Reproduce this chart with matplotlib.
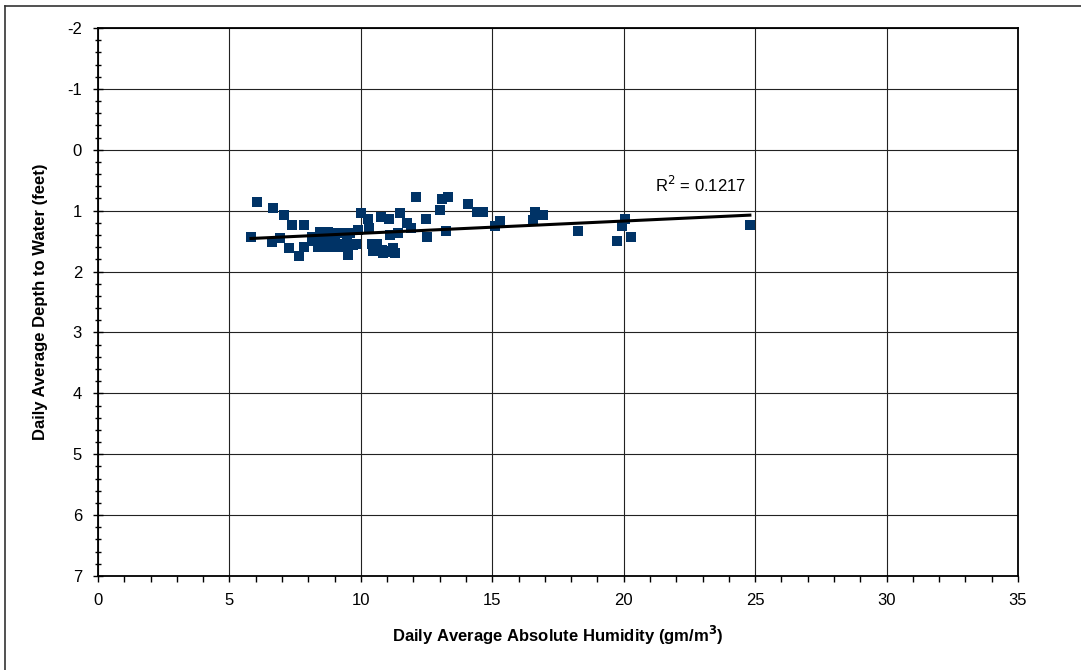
import numpy as np
import matplotlib
matplotlib.use("Agg")
import matplotlib.pyplot as plt
from matplotlib.ticker import MultipleLocator
from matplotlib.lines import Line2D

plt.rcParams['font.family'] = ['Liberation Sans', 'DejaVu Sans']
plt.rcParams['axes.unicode_minus'] = False

humidity = [5.82, 6.06, 6.61, 6.67, 6.92, 7.09, 7.28, 7.39, 7.66, 7.84, 7.85,
            8.13, 8.20, 8.38, 8.45, 8.50, 8.60, 8.60, 8.76, 8.76, 8.90, 8.90,
            9.00, 9.08, 9.14, 9.27, 9.30, 9.40, 9.46, 9.52, 9.59, 9.71, 9.80,
            9.90, 10.02, 10.28, 10.32, 10.41, 10.48, 10.60, 10.60, 10.75, 10.79,
            10.85, 10.95, 11.00, 11.07, 11.11, 11.23, 11.30, 11.43, 11.49, 11.74,
            11.91, 12.10, 12.46, 12.53, 13.01, 13.07, 13.24, 13.33, 14.06, 14.40,
            14.66, 15.10, 15.29, 16.56, 16.62, 16.94, 18.27, 19.73, 19.92, 20.05,
            20.28, 24.80]
depth = [1.44, 0.85, 1.52, 0.96, 1.45, 1.07, 1.62, 1.23, 1.74, 1.23, 1.59,
         1.43, 1.50, 1.59, 1.35, 1.58, 1.45, 1.50, 1.35, 1.59, 1.45, 1.60,
         1.48, 1.37, 1.59, 1.37, 1.55, 1.56, 1.40, 1.73, 1.37, 1.56, 1.55,
         1.32, 1.04, 1.14, 1.28, 1.54, 1.67, 1.55, 1.65, 1.11, 1.65,
         1.70, 1.68, 1.66, 1.14, 1.40, 1.62, 1.70, 1.37, 1.04, 1.20,
         1.29, 0.78, 1.14, 1.43, 0.99, 0.81, 1.33, 0.78, 0.89, 1.02,
         1.02, 1.25, 1.17, 1.16, 1.02, 1.07, 1.33, 1.50, 1.25, 1.14,
         1.44, 1.24]
r2_label = "R$^2$ = 0.1217"
x_label = "Daily Average Absolute Humidity (gm/m$^\\mathbf{3}$)"
y_label = "Daily Average Depth to Water (feet)"

W, H = 1081, 670
fig = plt.figure(figsize=(W / 100, H / 100), dpi=100)
ax = fig.add_axes([98 / W, 1 - 576 / H, (1018 - 98) / W, (576 - 28) / H])

x = np.array(humidity)
y = np.array(depth)
ax.scatter(x, y, marker='s', s=52, color='#003366', zorder=3, linewidths=0)

coef = np.polyfit(x, y, 1)
xs = np.array([x.min(), x.max()])
ax.plot(xs, np.polyval(coef, xs), color='black', lw=2.2, zorder=4)

ax.text(21.2, 0.58, r2_label, fontsize=12, ha='left', va='center')

ax.set_xlim(0, 35)
ax.set_ylim(7, -2)
ax.xaxis.set_major_locator(MultipleLocator(5))
ax.xaxis.set_minor_locator(MultipleLocator(1))
ax.yaxis.set_major_locator(MultipleLocator(1))
ax.yaxis.set_minor_locator(MultipleLocator(0.2))
ax.grid(True, which='major', color='#222222', lw=0.8)
ax.set_axisbelow(True)
for s in ax.spines.values():
    s.set_color('black')
    s.set_linewidth(1.3)

ax.tick_params(axis='y', which='major', direction='inout', length=7, width=1, labelsize=12, pad=8)
ax.tick_params(axis='y', which='minor', direction='inout', length=5, width=1)
ax.tick_params(axis='x', which='major', direction='out', length=4, width=1, labelsize=12, pad=8)
ax.tick_params(axis='x', which='minor', direction='out', length=4, width=1)

ax.set_xlabel(x_label, fontsize=12, fontweight='bold', labelpad=12)
ax.set_ylabel(y_label, fontsize=12, fontweight='bold', labelpad=14)

# outer chart border (top and left visible)
fig.add_artist(Line2D([5 / W, 5 / W], [0, 1 - 6 / H], transform=fig.transFigure, color='#333333', lw=1.2))
fig.add_artist(Line2D([5 / W, 1], [1 - 6 / H, 1 - 6 / H], transform=fig.transFigure, color='#333333', lw=1.2))

fig.savefig("out.png", dpi=100, facecolor='white')
